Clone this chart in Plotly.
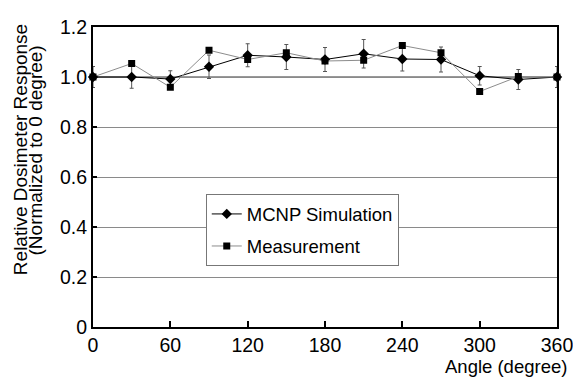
import plotly.graph_objects as go

angles = [0, 30, 60, 90, 120, 150, 180, 210, 240, 270, 300, 330, 360]
mcnp = [1.0, 1.0, 0.992, 1.041, 1.087, 1.08, 1.07, 1.093, 1.072, 1.07, 1.005, 0.99, 1.0]
mcnp_err = [0.042, 0.045, 0.033, 0.047, 0.046, 0.05, 0.048, 0.057, 0.048, 0.05, 0.037, 0.04, 0.042]
measurement = [1.0, 1.054, 0.959, 1.107, 1.07, 1.097, 1.064, 1.067, 1.126, 1.097, 0.942, 1.002, 1.0]
x_ticks = [0, 60, 120, 180, 240, 300, 360]
y_ticks = [0, 0.2, 0.4, 0.6, 0.8, 1.0, 1.2]
y_tick_text = ["0", "0.2", "0.4", "0.6", "0.8", "1.0", "1.2"]
reference_level = 1.0

FONT = "Liberation Sans, Arial, sans-serif"

fig = go.Figure()
fig.add_trace(go.Scatter(
    x=angles, y=mcnp, name="MCNP Simulation", mode="lines+markers",
    legendgroup="a",
    line=dict(color="black", width=1),
    marker=dict(symbol="diamond", size=8, color="black"),
    error_y=dict(type="data", array=mcnp_err, visible=True, color="#555555", thickness=1, width=2),
    cliponaxis=False,
))
fig.add_trace(go.Scatter(
    x=angles, y=measurement, name="Measurement", mode="lines+markers",
    legendgroup="b",
    line=dict(color="#8c8c8c", width=1),
    marker=dict(symbol="square", size=7, color="black"),
    cliponaxis=False,
))

fig.add_shape(type="line", xref="paper", x0=0, x1=1, yref="y", y0=reference_level, y1=reference_level,
              line=dict(color="#333333", width=1), layer="below")

fig.update_layout(
    width=573, height=373,
    margin=dict(l=85, r=24, t=8, b=54),
    paper_bgcolor="white", plot_bgcolor="white",
    font=dict(family=FONT, color="black", size=18),
    showlegend=True,
    legend=dict(x=0.243, y=0.442, xanchor="left", yanchor="top",
                bordercolor="#777777", borderwidth=1, bgcolor="white",
                traceorder="grouped", tracegroupgap=5,
                font=dict(size=18.5, family=FONT), itemwidth=30),
    xaxis=dict(range=[0, 360], tickvals=x_ticks, ticks="inside", ticklen=6, tickcolor="black",
               tickwidth=1.5, ticklabeloverflow="allow",
               showline=True, linecolor="black", linewidth=2, mirror=True, showgrid=False,
               zeroline=False, tickfont=dict(size=19.5, family=FONT)),
    yaxis=dict(range=[0, 1.2], tickvals=y_ticks, ticktext=y_tick_text, ticks="inside", ticklen=4,
               tickcolor="black", tickwidth=1.5, ticklabeloverflow="allow",
               showline=True, linecolor="black", linewidth=2, mirror=True, showgrid=True,
               gridcolor="#8a8a8a", gridwidth=1, zeroline=False, tickfont=dict(size=19.5, family=FONT)),
    annotations=[
        dict(text="Angle (degree)", xref="paper", yref="paper", x=1.026, y=-0.132,
             xanchor="right", yanchor="middle", showarrow=False, font=dict(size=18.5, family=FONT)),
        dict(text="Relative Dosimeter Response", xref="paper", yref="paper",
             x=-0.157, y=0.59, xanchor="center", yanchor="middle", textangle=-90, showarrow=False,
             font=dict(size=19, family=FONT)),
        dict(text="(Normalized to 0 degree)", xref="paper", yref="paper",
             x=-0.124, y=0.59, xanchor="center", yanchor="middle", textangle=-90, showarrow=False,
             font=dict(size=19, family=FONT)),
    ],
)

fig.write_html("out.html")
